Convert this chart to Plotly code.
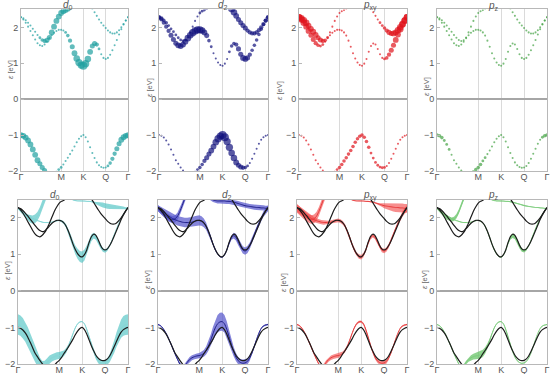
import plotly.graph_objects as go

# ---------------- k-path (fraction of path length) ----------------
k = [0.0, 0.0221, 0.0441, 0.0662, 0.0882, 0.1103, 0.1324, 0.1544, 0.1765, 0.1985,
     0.2206, 0.2426, 0.2647, 0.2868, 0.3088, 0.3309, 0.3529, 0.375,
     0.3958, 0.4167, 0.4375, 0.4583, 0.4792, 0.5, 0.5208, 0.5417, 0.5625, 0.5833,
     0.6042, 0.625, 0.6458, 0.6667, 0.6875, 0.7083, 0.7292, 0.75, 0.7708, 0.7917,
     0.8125, 0.8333, 0.8542, 0.875, 0.8958, 0.9167, 0.9375, 0.9583, 0.9792, 1.0]
k_ticks = [0.0, 0.375, 0.5833, 0.7917, 1.0]
k_labels = ["Γ", "M", "K", "Q", "Γ"]
e_ticks = [-2, -1, 0, 1, 2]

# ---------------- DFT bands (eV) ----------------
band_A = [2.28, 2.22, 2.13, 2.02, 1.90, 1.78, 1.66, 1.56, 1.50, 1.48, 1.52, 1.60, 1.70, 1.78, 1.85, 1.90, 1.93, 1.93,
          1.91, 1.86, 1.77, 1.63, 1.46, 1.28, 1.13, 1.02, 0.95, 0.93,
          0.99, 1.12, 1.32, 1.48, 1.55, 1.52, 1.40, 1.25, 1.15, 1.12,
          1.15, 1.24, 1.36, 1.50, 1.65, 1.80, 1.95, 2.08, 2.19, 2.28]
band_B_start = 0
band_B = [2.28, 2.25, 2.20, 2.13, 2.05, 1.96, 1.88, 1.79, 1.71, 1.65, 1.62, 1.64, 1.72, 1.86, 2.02, 2.18, 2.30, 2.40,
          2.45, 2.48, 2.52, 2.57]
band_C_start = 29
band_C = [2.72, 2.62, 2.52, 2.42, 2.32, 2.22, 2.13, 2.05, 1.98,
          1.91, 1.86, 1.83, 1.83, 1.86, 1.92, 2.00, 2.09, 2.19, 2.28]
band_V = [-1.00, -1.02, -1.07, -1.15, -1.26, -1.40, -1.55, -1.70, -1.80, -1.90, -1.99, -2.07, -2.13, -2.16, -2.10, -2.03, -1.96, -1.90,
          -1.82, -1.72, -1.63, -1.53, -1.43, -1.32, -1.20, -1.10, -1.03, -1.00,
          -1.06, -1.18, -1.34, -1.50, -1.64, -1.76, -1.84, -1.89, -1.91, -1.90,
          -1.86, -1.78, -1.66, -1.52, -1.38, -1.24, -1.13, -1.06, -1.02, -1.00]

# ---------------- model bands (eV) ----------------
model_A = [2.26, 2.21, 2.16, 2.11, 2.06, 2.02, 1.98, 1.95, 1.92, 1.90, 1.88, 1.87, 1.87, 1.87, 1.88, 1.90, 1.92, 1.93,
           1.91, 1.86, 1.77, 1.63, 1.46, 1.28, 1.12, 1.01, 0.94, 0.92,
           0.98, 1.11, 1.30, 1.45, 1.51, 1.47, 1.35, 1.22, 1.12, 1.09,
           1.13, 1.23, 1.38, 1.54, 1.70, 1.85, 1.98, 2.10, 2.19, 2.26]
model_B_start = 0
model_B = [2.26, 2.19, 2.13, 2.07, 2.01, 1.97, 1.95, 1.97, 2.04, 2.17, 2.34, 2.52, 2.70]
model_C_start = 20
model_C = [2.62, 2.56, 2.52, 2.49, 2.47, 2.46, 2.46, 2.46, 2.46, 2.45, 2.45, 2.44, 2.43, 2.41,
           2.39, 2.37, 2.35, 2.33, 2.32, 2.31, 2.30, 2.29, 2.28, 2.28, 2.27, 2.27, 2.26, 2.26]
model_V = [-0.92, -0.95, -1.02, -1.12, -1.25, -1.40, -1.56, -1.72, -1.87, -2.00, -2.08, -2.05, -1.96, -1.88, -1.83, -1.80, -1.78, -1.77,
           -1.75, -1.71, -1.63, -1.51, -1.35, -1.17, -1.01, -0.90, -0.85, -0.84,
           -0.90, -1.05, -1.25, -1.47, -1.66, -1.81, -1.91, -1.96, -1.98, -1.97,
           -1.93, -1.84, -1.70, -1.52, -1.33, -1.16, -1.03, -0.96, -0.93, -0.92]

# ---------------- orbital weights on DFT bands (0-9) ----------------
wA_d0 = [1, 1, 1, 1, 1, 1, 1, 1, 1, 1, 1, 1, 1, 1, 1, 1, 1, 1, 1, 2, 3, 4, 5, 6, 7, 8, 8, 9,
         8, 7, 6, 5, 5, 4, 2, 1, 1, 1, 1, 1, 1, 1, 1, 1, 1, 1, 1, 1]
wB_d0 = [1, 1, 1, 1, 1, 1, 1, 1, 2, 3, 4, 5, 5, 6, 6, 6, 6, 6, 6, 6, 6, 6]
wC_d0 = [1, 1, 1, 1, 1, 1, 1, 1, 1, 1, 1, 1, 1, 1, 1, 1, 1, 1, 1]
wV_d0 = [6, 6, 6, 6, 6, 6, 6, 6, 5, 5, 5, 4, 4, 3, 3, 2, 2, 2, 1, 1, 1, 1, 1, 1, 1, 1, 1, 1,
         1, 1, 1, 1, 1, 1, 1, 1, 1, 1, 2, 3, 4, 4, 5, 5, 6, 6, 6, 6]

wA_d2 = [4, 4, 4, 4, 4, 5, 5, 5, 6, 6, 6, 6, 7, 7, 8, 8, 8, 8, 7, 6, 5, 3, 2, 1, 1, 1, 1, 1,
         1, 1, 2, 3, 3, 4, 5, 5, 6, 6, 5, 4, 3, 3, 3, 3, 3, 3, 4, 4]
wB_d2 = [4, 4, 3, 3, 2, 2, 2, 2, 2, 2, 2, 2, 1, 1, 1, 1, 1, 2, 2, 2, 2, 2]
wC_d2 = [8, 8, 8, 7, 6, 5, 5, 5, 5, 4, 4, 4, 4, 4, 4, 4, 4, 4, 4]
wV_d2 = [1, 1, 1, 1, 1, 1, 1, 1, 1, 1, 1, 1, 1, 1, 1, 2, 2, 3, 3, 4, 5, 5, 6, 6, 7, 8, 8, 9,
         9, 8, 8, 7, 7, 6, 5, 5, 4, 3, 2, 1, 1, 1, 1, 1, 1, 1, 1, 1]

wA_pxy = [7, 7, 7, 6, 6, 5, 5, 4, 3, 2, 2, 1, 1, 1, 1, 1, 1, 1, 1, 1, 1, 1, 1, 1, 1, 1, 1, 1,
          1, 1, 1, 1, 1, 1, 1, 1, 1, 2, 3, 4, 5, 5, 6, 6, 7, 7, 7, 7]
wB_pxy = [7, 7, 7, 7, 6, 6, 6, 6, 5, 5, 4, 3, 2, 1, 1, 1, 1, 1, 1, 1, 1, 1]
wC_pxy = [1, 1, 1, 1, 1, 1, 2, 2, 3, 4, 5, 5, 6, 6, 7, 7, 7, 7, 7]
wV_pxy = [1, 1, 1, 1, 1, 1, 1, 1, 1, 1, 1, 1, 1, 1, 1, 2, 2, 3, 3, 3, 3, 3, 3, 3, 3, 3, 3, 3,
          3, 3, 3, 2, 2, 2, 2, 2, 2, 2, 1, 1, 1, 1, 1, 1, 1, 1, 1, 1]

wA_pz = [1, 1, 1, 1, 1, 1, 1, 1, 1, 1, 1, 1, 1, 1, 1, 1, 1, 1, 1, 1, 1, 1, 1, 1, 1, 1, 1, 1,
         1, 1, 1, 1, 1, 1, 1, 1, 1, 1, 1, 1, 1, 1, 1, 1, 1, 1, 1, 1]
wB_pz = [1, 1, 1, 1, 1, 1, 1, 1, 1, 1, 1, 1, 1, 1, 1, 1, 1, 1, 1, 1, 1, 1]
wC_pz = [1, 1, 1, 1, 1, 1, 1, 1, 1, 1, 1, 1, 1, 1, 1, 1, 1, 1, 1]
wV_pz = [3, 3, 3, 2, 2, 2, 1, 1, 1, 1, 1, 1, 1, 1, 2, 3, 3, 3, 3, 2, 2, 1, 1, 1, 1, 1, 1, 1,
         1, 1, 1, 1, 1, 1, 1, 1, 1, 1, 1, 1, 1, 1, 1, 1, 1, 2, 3, 3]

# ---------------- orbital half-widths on model bands (0.01 eV) ----------------
hA_d0 = [1, 1, 1, 1, 1, 1, 1, 1, 1, 1, 1, 1, 1, 1, 1, 1, 2, 2, 3, 4, 5, 6, 8, 10, 12, 14, 15, 16,
         15, 13, 11, 9, 8, 7, 6, 6, 5, 5, 4, 3, 2, 2, 1, 1, 1, 1, 1, 1]
hB_d0 = [3, 4, 5, 6, 8, 10, 11, 12, 12, 12, 12, 12, 12]
hC_d0 = [1, 1, 1, 1, 1, 1, 1, 1, 1, 1, 1, 1, 1, 3, 5, 6, 7, 7, 7, 7, 7, 7, 6, 6, 5, 4, 3, 3]
hV_d0 = [28, 28, 28, 27, 26, 25, 24, 22, 20, 18, 16, 14, 12, 11, 10, 10, 10, 10, 9, 8, 7, 5, 4, 3, 2, 1, 1, 1,
         1, 2, 3, 4, 5, 6, 7, 8, 8, 8, 9, 11, 14, 17, 20, 23, 25, 27, 28, 28]

hA_d2 = [8, 9, 10, 11, 12, 13, 13, 13, 13, 13, 13, 13, 13, 13, 14, 14, 14, 14, 13, 12, 10, 8, 6, 4, 2, 1, 1, 1,
         1, 2, 4, 6, 8, 9, 10, 10, 10, 10, 10, 9, 9, 8, 8, 8, 8, 8, 8, 8]
hB_d2 = [8, 8, 9, 9, 10, 10, 10, 10, 10, 10, 10, 10, 10]
hC_d2 = [3, 4, 5, 6, 7, 7, 7, 7, 7, 7, 7, 7, 7, 7, 7, 7, 7, 7, 7, 7, 7, 7, 7, 7, 7, 7, 7, 7]
hV_d2 = [2, 2, 2, 2, 3, 3, 3, 4, 4, 5, 5, 6, 6, 7, 7, 7, 7, 7, 8, 9, 11, 13, 16, 19, 22, 24, 25, 25,
         24, 22, 19, 16, 13, 11, 10, 10, 10, 10, 9, 8, 6, 5, 4, 3, 2, 2, 2, 2]

hA_pxy = [10, 10, 10, 9, 9, 8, 8, 7, 7, 6, 6, 6, 5, 5, 5, 5, 5, 5, 5, 5, 5, 5, 5, 5, 5, 5, 6, 6,
          6, 5, 5, 5, 5, 5, 5, 5, 6, 6, 6, 6, 6, 6, 6, 7, 7, 8, 8, 9]
hB_pxy = [12, 12, 12, 12, 12, 12, 12, 12, 12, 12, 12, 12, 12]
hC_pxy = [1, 1, 1, 1, 1, 1, 1, 1, 1, 1, 1, 1, 1, 1, 1, 3, 5, 7, 9, 10, 11, 12, 12, 12, 12, 12, 12, 12]
hV_pxy = [2, 2, 2, 2, 2, 2, 2, 2, 3, 3, 4, 5, 6, 6, 6, 6, 6, 6, 6, 5, 5, 4, 4, 3, 3, 3, 3, 3,
          3, 3, 3, 4, 4, 5, 5, 6, 6, 6, 6, 5, 4, 3, 2, 2, 2, 2, 2, 2]

hA_pz = [1, 1, 1, 1, 1, 1, 1, 1, 1, 1, 1, 1, 1, 1, 1, 1, 1, 1, 1, 1, 1, 1, 1, 1, 1, 1, 1, 1,
         1, 2, 3, 5, 6, 6, 6, 6, 5, 4, 3, 2, 1, 1, 1, 1, 1, 1, 1, 1]
hB_pz = [3, 4, 5, 6, 6, 6, 6, 6, 6, 6, 6, 6, 6]
hC_pz = [1, 1, 1, 1, 1, 1, 1, 1, 1, 1, 1, 1, 1, 1, 1, 1, 1, 1, 1, 1, 1, 1, 1, 1, 1, 1, 1, 1]
hV_pz = [1, 1, 1, 1, 1, 1, 1, 1, 1, 2, 3, 4, 5, 6, 7, 8, 9, 10, 10, 10, 9, 7, 5, 3, 2, 1, 1, 1,
         1, 1, 1, 1, 1, 1, 1, 1, 1, 1, 1, 1, 1, 1, 1, 1, 1, 1, 1, 1]

titles = ["<i>d</i><sub>0</sub>", "<i>d</i><sub>2</sub>", "<i>p</i><sub>xy</sub>", "<i>p</i><sub>z</sub>"]
dot_colors = ["#1f9f9f", "#12127e", "#e0141c", "#45a345"]
fill_colors = ["rgba(70,192,192,0.62)", "rgba(86,86,204,0.72)", "rgba(242,72,72,0.62)", "rgba(96,192,96,0.7)"]
model_line_colors = ["#86d6d6", "#20208a", "#e63a3a", "#7ccc7c"]

top_w = [(wA_d0, wB_d0, wC_d0, wV_d0), (wA_d2, wB_d2, wC_d2, wV_d2),
         (wA_pxy, wB_pxy, wC_pxy, wV_pxy), (wA_pz, wB_pz, wC_pz, wV_pz)]
bot_h = [(hA_d0, hB_d0, hC_d0, hV_d0), (hA_d2, hB_d2, hC_d2, hV_d2),
         (hA_pxy, hB_pxy, hC_pxy, hV_pxy), (hA_pz, hB_pz, hC_pz, hV_pz)]

W, H = 550, 374
top_x = [(21, 128), (159, 268), (299, 407), (437, 547)]
bot_x = [(18, 128), (158, 268), (297, 407), (437, 547)]
top_y = (9.4, 171)
bot_y = (199.5, 364)
title_pos = [(68, 5), (223, 5), (370, 5), (493, 6), (55, 195), (227, 195), (370, 195), (493, 195)]
ylab_pos = [(11, 70), (149, 88), (280, 90), (426, 87), (7, 271), (147, 280), (283, 283), (424, 280)]

fig = go.Figure()


def ax_names(n):
    s = "" if n == 1 else str(n)
    return "x" + s, "y" + s


def dots(n, start, ys, ws, color):
    xa, ya = ax_names(n)
    xs = k[start:start + len(ys)]
    fig.add_trace(go.Scatter(x=xs, y=ys, mode="markers", xaxis=xa, yaxis=ya, hoverinfo="skip",
                             marker=dict(size=[1.3 + 0.75 * w for w in ws], color=color, line=dict(width=0))))


def fat(n, start, ys, hs, color):
    xa, ya = ax_names(n)
    xs = k[start:start + len(ys)]
    up = [y + h / 100 for y, h in zip(ys, hs)]
    lo = [y - h / 100 for y, h in zip(ys, hs)]
    fig.add_trace(go.Scatter(x=xs + xs[::-1], y=up + lo[::-1], mode="lines", fill="toself",
                             fillcolor=color, line=dict(width=0), xaxis=xa, yaxis=ya, hoverinfo="skip"))


def line(n, start, ys, color, width):
    xa, ya = ax_names(n)
    xs = k[start:start + len(ys)]
    fig.add_trace(go.Scatter(x=xs, y=ys, mode="lines", line=dict(color=color, width=width, shape="spline", smoothing=0.6),
                             xaxis=xa, yaxis=ya, hoverinfo="skip"))


for i in range(4):
    # top row: DFT fat-dot bands
    n = i + 1
    wA, wB, wC, wV = top_w[i]
    dots(n, 0, band_A, wA, dot_colors[i])
    dots(n, band_B_start, band_B, wB, dot_colors[i])
    dots(n, band_C_start, band_C, wC, dot_colors[i])
    dots(n, 0, band_V, wV, dot_colors[i])
    # bottom row: model fat bands + DFT lines
    n = i + 5
    hA, hB, hC, hV = bot_h[i]
    fat(n, 0, model_A, hA, fill_colors[i])
    fat(n, model_B_start, model_B, hB, fill_colors[i])
    fat(n, model_C_start, model_C, hC, fill_colors[i])
    fat(n, 0, model_V, hV, fill_colors[i])
    for st, mb in ((0, model_A), (model_B_start, model_B), (model_C_start, model_C), (0, model_V)):
        line(n, st, mb, model_line_colors[i], 1.0)
    for st, bb in ((0, band_A), (band_B_start, band_B), (band_C_start, band_C), (0, band_V)):
        line(n, st, bb, "#1c1c1c", 1.2)

layout = dict(width=W, height=H, margin=dict(l=0, r=0, t=0, b=0, pad=0, autoexpand=False), paper_bgcolor="white",
              plot_bgcolor="white", showlegend=False, font=dict(family="Liberation Sans, Arial, sans-serif"))
annotations = []
for n in range(1, 9):
    i = (n - 1) % 4
    if n <= 4:
        x0, x1 = top_x[i]
        y0, y1 = top_y
    else:
        x0, x1 = bot_x[i]
        y0, y1 = bot_y
    s = "" if n == 1 else str(n)
    layout["xaxis" + s] = dict(domain=[x0 / W, x1 / W], range=[0, 1], anchor="y" + s, automargin=False,
                               tickvals=k_ticks, ticktext=k_labels, showgrid=True, gridcolor="#dadada",
                               gridwidth=1, showline=True, linecolor="#b8b8b8", linewidth=1, mirror=True,
                               ticks="", ticklabelstandoff=-3,
                               tickfont=dict(size=9, color="#555555"), zeroline=False, fixedrange=True)
    layout["yaxis" + s] = dict(domain=[1 - y1 / H, 1 - y0 / H], range=[-2, 2.5], anchor="x" + s, automargin=False,
                               tickvals=e_ticks, showgrid=False, zeroline=True, zerolinecolor="#a6a6a6",
                               zerolinewidth=1.5, showline=True, linecolor="#b8b8b8", linewidth=1, mirror=True,
                               ticks="inside", ticklen=3, tickcolor="#b8b8b8",
                               tickfont=dict(size=9, color="#555555"), fixedrange=True)
    tx, ty = title_pos[n - 1]
    annotations.append(dict(text=titles[i], x=tx / W, y=1 - ty / H, xref="paper", yref="paper",
                            showarrow=False, font=dict(size=10, color="#555555"), xanchor="center", yanchor="middle"))
    lx, ly = ylab_pos[n - 1]
    annotations.append(dict(text="<i>ε</i> [eV]", x=lx / W, y=1 - ly / H, xref="paper", yref="paper",
                            showarrow=False, textangle=-90, font=dict(size=7.5, color="#666666"),
                            xanchor="center", yanchor="middle"))
layout["annotations"] = annotations
fig.update_layout(**layout)
fig.write_html("out.html", config={"displayModeBar": False},
               post_script="document.body.style.margin='0';document.body.style.overflow='hidden';")
